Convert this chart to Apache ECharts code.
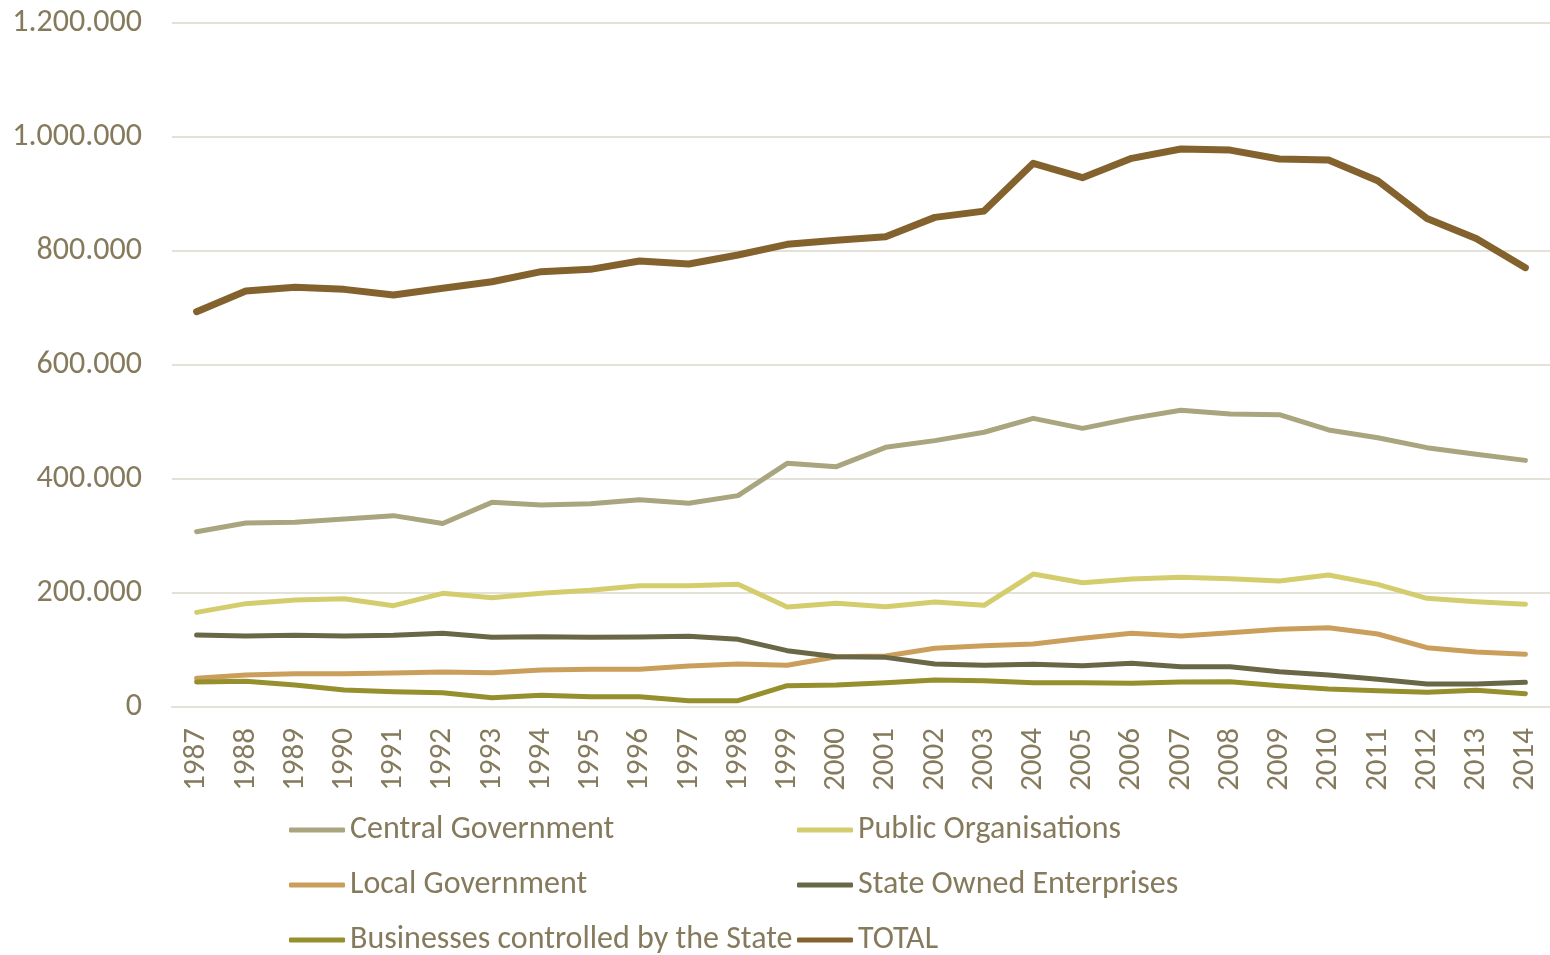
<!DOCTYPE html>
<html>
<head>
<meta charset="utf-8">
<title>Public sector employment 1987–2014</title>
<script src="https://cdn.jsdelivr.net/npm/echarts@6/dist/echarts.min.js"></script>
<style>
  html, body { margin: 0; padding: 0; background: #ffffff; }
  #chart { width: 1550px; height: 955px; }
</style>
</head>
<body>
<div id="chart"></div>
<script>
// Years on the category axis
const years = ['1987','1988','1989','1990','1991','1992','1993','1994','1995','1996','1997','1998','1999','2000',
               '2001','2002','2003','2004','2005','2006','2007','2008','2009','2010','2011','2012','2013','2014'];

// Employees per sector
const centralGovernment = [307600,322800,324000,329800,335700,322000,359000,354400,356700,363700,357300,370800,427500,421600,
                           455600,467300,482000,506400,488900,506400,520500,514000,512900,486000,472500,455000,443300,432700];
const publicOrganisations = [166000,181300,187700,190000,177800,199400,191800,199400,204700,212900,212900,215200,175400,181900,
                             176000,184200,178400,233300,218100,224600,227500,225100,221000,231600,215200,190600,184800,180100];
const localGovernment = [50300,56100,58500,58500,59600,61400,60200,64900,66100,66100,71900,75400,73100,88300,
                         89500,103000,107600,110500,120500,129200,124600,130400,136300,139200,128100,104100,96500,92400];
const stateOwnedEnterprises = [126300,124600,125700,124600,125700,129200,122200,123400,122200,122800,124000,118700,98800,88300,
                               87100,75400,73100,74900,72500,76600,70800,70800,62000,56100,48500,40400,40400,43300];
const businessesControlled = [43900,45000,38600,29800,26900,25100,16400,20500,18100,18100,11100,11100,37400,38600,
                              42500,47400,46200,42700,42700,41500,43900,44500,37400,31600,28600,25700,29200,23400];
const total = [693500,729800,736300,732700,722800,734500,746000,763700,767800,782500,777200,793000,811700,819000,
               825000,859000,870000,953800,928700,962600,979000,977000,961400,959600,923400,857000,822000,770800];

// Value axis ticks
const yTicks = [0, 200000, 400000, 600000, 800000, 1000000, 1200000];

const textColor = '#857A5C';
const gridColor = '#E4E1D9';
const fontFamily = "Carlito, Lato, 'Open Sans', sans-serif";

const seriesDefs = [
  { name: 'Central Government', data: centralGovernment, color: '#A9A57E', width: 5 },
  { name: 'Public Organisations', data: publicOrganisations, color: '#D4CD6D', width: 5 },
  { name: 'Local Government', data: localGovernment, color: '#CA9F5C', width: 5 },
  { name: 'State Owned Enterprises', data: stateOwnedEnterprises, color: '#6A6746', width: 5 },
  { name: 'Businesses controlled by the State', data: businessesControlled, color: '#958F2E', width: 5 },
  { name: 'TOTAL', data: total, color: '#84622D', width: 7 }
];

// Legend: two columns, three rows
const legendSlots = [
  { name: 'Central Government', left: 289, row: 0 },
  { name: 'Public Organisations', left: 797, row: 0 },
  { name: 'Local Government', left: 289, row: 1 },
  { name: 'State Owned Enterprises', left: 797, row: 1 },
  { name: 'Businesses controlled by the State', left: 289, row: 2 },
  { name: 'TOTAL', left: 797, row: 2 }
];

function dotted(v) {
  return String(v).replace(/\B(?=(\d{3})+(?!\d))/g, '.');
}

const legendLineHeight = 36;
const legends = legendSlots.map(slot => ({
  orient: 'horizontal',
  left: slot.left,
  top: 830 + slot.row * 55 - legendLineHeight / 2,
  padding: 0,
  itemWidth: 56,
  itemHeight: 5,
  icon: 'roundRect',
  data: [slot.name],
  textStyle: { color: textColor, fontSize: 32, fontFamily: fontFamily, lineHeight: legendLineHeight }
}));

const chart = echarts.init(document.getElementById('chart'), null, { renderer: 'canvas' });
chart.setOption({
  backgroundColor: '#ffffff',
  animation: false,
  grid: { left: 172, right: 0, top: 23, bottom: 248, containLabel: false },
  legend: legends,
  xAxis: {
    type: 'category',
    data: years,
    boundaryGap: true,
    axisLine: { show: true, lineStyle: { color: gridColor, width: 2 } },
    axisTick: { show: false },
    axisLabel: {
      rotate: 90,
      margin: 21,
      color: textColor,
      fontSize: 31,
      fontFamily: fontFamily,
      interval: 0
    }
  },
  yAxis: {
    type: 'value',
    min: yTicks[0],
    max: yTicks[yTicks.length - 1],
    interval: yTicks[1] - yTicks[0],
    axisLine: { show: false },
    axisTick: { show: false },
    splitLine: { lineStyle: { color: gridColor, width: 2 } },
    axisLabel: {
      margin: 30,
      color: textColor,
      fontSize: 32,
      fontFamily: fontFamily,
      formatter: dotted
    }
  },
  series: seriesDefs.map(s => ({
    name: s.name,
    type: 'line',
    data: s.data,
    symbol: 'none',
    showSymbol: false,
    color: s.color,
    lineStyle: { color: s.color, width: s.width, cap: 'round', join: 'round' },
    itemStyle: { color: s.color }
  }))
});
</script>
</body>
</html>
